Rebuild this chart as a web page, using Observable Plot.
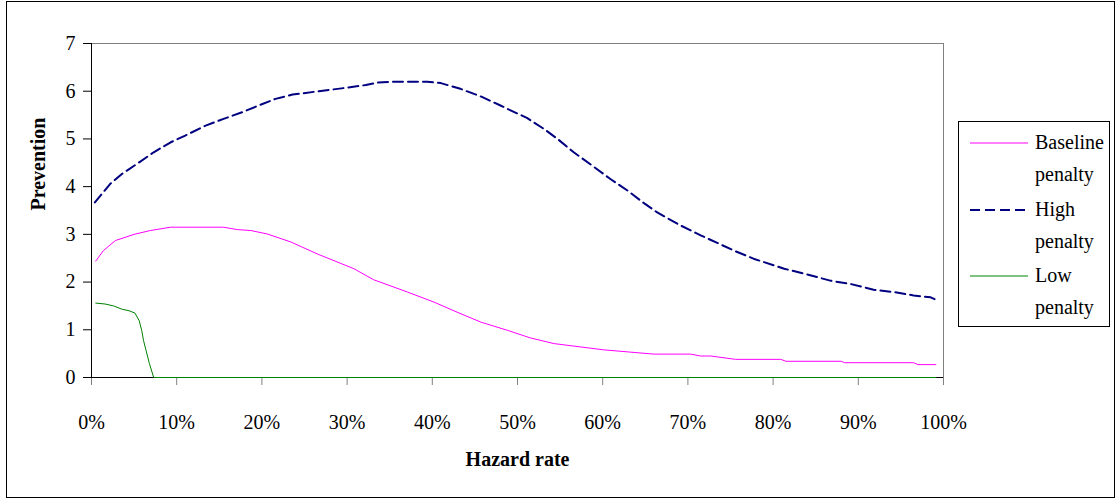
<!DOCTYPE html>
<html>
<head>
<meta charset="utf-8">
<script src="https://cdn.jsdelivr.net/npm/d3@7"></script>
<script src="https://cdn.jsdelivr.net/npm/@observablehq/plot@0.6"></script>
<style>
  body { margin: 0; background: #fff; }
  #wrap { position: relative; width: 1118px; height: 501px; overflow: hidden;
          font-family: "Liberation Serif", LiberationSerif, "Times New Roman", Times, "DejaVu Serif", serif; }
  #frame { position: absolute; left: 6px; top: 1px; width: 1109px; height: 497px;
           border: 1.5px solid #000; box-sizing: border-box; pointer-events: none; }
  #chart { position: absolute; left: 0; top: 0; }
  #chart svg, #chart svg text { font-family: "Liberation Serif", LiberationSerif, "Times New Roman", Times, "DejaVu Serif", serif !important; }
  #legend { position: absolute; left: 958px; top: 121px; width: 152px; height: 206px;
            border: 1px solid #000; box-sizing: border-box; background: #fff; }
  .lg-text { position: absolute; left: 76px; font-size: 20px; line-height: 20px; color: #000; white-space: nowrap; }
</style>
</head>
<body>
<div id="wrap">
  <div id="chart"></div>
  <div id="legend"></div>
  <div id="frame"></div>
</div>
<script>
// Series names
const seriesNames = ["Baseline penalty", "High penalty", "Low penalty"];
const seriesColors = ["#FF00FF", "#000080", "#008000"];

// Hazard rate (%) and prevention values
const baseX = [0.5, 1.4, 2.8, 5.0, 6.9, 9.3, 15.5, 17.1, 18.7, 20.6, 23.4, 26.5, 30.8, 33.1, 37.1, 40.2, 42.9, 45.7, 48.8, 51.5, 54.3, 60.1, 66.0, 70.3, 71.5, 72.7, 75.6, 80.9, 81.5, 88.0, 88.4, 96.5, 97.0, 99.1];
const baseY = [2.44, 2.66, 2.87, 3.00, 3.08, 3.15, 3.15, 3.10, 3.08, 3.01, 2.84, 2.59, 2.28, 2.05, 1.79, 1.58, 1.37, 1.16, 0.99, 0.83, 0.71, 0.58, 0.49, 0.49, 0.45, 0.45, 0.38, 0.38, 0.34, 0.34, 0.31, 0.31, 0.27, 0.27];

const highX = [0.4, 2.2, 3.6, 5.6, 7.3, 9.3, 11.0, 13.4, 15.5, 17.7, 19.6, 21.6, 23.6, 26.7, 29.8, 32.2, 33.6, 35.5, 39.4, 41.0, 43.3, 45.7, 48.0, 51.1, 53.1, 54.7, 56.6, 59.0, 60.9, 62.9, 64.8, 66.4, 69.1, 71.5, 75.4, 77.7, 81.3, 84.0, 86.7, 89.1, 91.8, 94.2, 96.5, 98.5, 99.1];
const highY = [3.67, 4.06, 4.27, 4.51, 4.72, 4.93, 5.07, 5.28, 5.42, 5.56, 5.70, 5.84, 5.93, 6.00, 6.07, 6.13, 6.18, 6.20, 6.20, 6.17, 6.05, 5.89, 5.70, 5.44, 5.21, 5.00, 4.72, 4.41, 4.16, 3.92, 3.66, 3.46, 3.19, 2.98, 2.66, 2.49, 2.28, 2.16, 2.03, 1.96, 1.84, 1.79, 1.72, 1.68, 1.63];

const lowX = [0.5, 1.6, 2.6, 3.6, 4.4, 5.1, 5.6, 5.9, 6.1, 6.4, 6.8, 7.3, 99.1];
const lowY = [1.56, 1.54, 1.50, 1.43, 1.40, 1.35, 1.19, 0.98, 0.78, 0.57, 0.29, 0.00, 0.00];

// Axis ticks
const xTicks = [0, 10, 20, 30, 40, 50, 60, 70, 80, 90, 100];
const yTicks = [0, 1, 2, 3, 4, 5, 6, 7];

const toRows = (xs, ys) => xs.map((x, i) => ({x, y: ys[i]}));
const baseRows = toRows(baseX, baseY);
const highRows = toRows(highX, highY);
const lowRows = toRows(lowX, lowY);

const serif = '"Liberation Serif", LiberationSerif, "Times New Roman", Times, "DejaVu Serif", serif';

const chart = Plot.plot({
  width: 1118,
  height: 501,
  marginLeft: 91,
  marginRight: 175,
  marginTop: 43,
  marginBottom: 124,
  style: { fontFamily: serif, fontSize: "20px", background: "transparent", color: "#000" },
  x: { domain: [0, 100] },
  y: { domain: [0, 7] },
  marks: [
    Plot.frame({ stroke: "#808080" }),
    Plot.axisX({ ticks: xTicks, tickSize: 8, tickPadding: 29, stroke: "#808080", tickFormat: d => d + "%", label: null, fontSize: 20, fontFamily: serif }),
    Plot.axisY({ ticks: yTicks, tickSize: 8, tickPadding: 8, stroke: "#000", tickFormat: d => String(d), label: null, fontSize: 20, fontFamily: serif }),
    Plot.ruleX([0], { stroke: "#000" }),
    Plot.ruleY([0], { stroke: "#000" }),
    Plot.line(baseRows, { x: "x", y: "y", stroke: seriesColors[0], strokeWidth: 1 }),
    Plot.line(highRows, { x: "x", y: "y", stroke: seriesColors[1], strokeWidth: 2, strokeDasharray: "10,5" }),
    Plot.line(lowRows, { x: "x", y: "y", stroke: seriesColors[2], strokeWidth: 1 }),
    Plot.text(["Hazard rate"], { frameAnchor: "bottom", dy: 88, fontWeight: "bold", fontSize: 20, fontFamily: serif, fill: "#000" }),
    Plot.text(["Prevention"], { frameAnchor: "left", dx: -53, rotate: -90, fontWeight: "bold", fontSize: 20, fontFamily: serif, fill: "#000" })
  ]
});
document.getElementById("chart").appendChild(chart);

// Legend
const legend = document.getElementById("legend");
const entryStep = 66.5;
seriesNames.forEach((name, i) => {
  const cy = 21 + i * entryStep;
  const svgNS = "http://www.w3.org/2000/svg";
  const s = document.createElementNS(svgNS, "svg");
  s.setAttribute("width", 60); s.setAttribute("height", 6);
  s.style.position = "absolute"; s.style.left = "10px"; s.style.top = (cy - 3) + "px";
  const l = document.createElementNS(svgNS, "line");
  l.setAttribute("x1", 1); l.setAttribute("x2", 59); l.setAttribute("y1", 3); l.setAttribute("y2", 3);
  l.setAttribute("stroke", seriesColors[i]);
  l.setAttribute("stroke-width", i === 1 ? 2 : 1);
  if (i === 1) l.setAttribute("stroke-dasharray", "10,5");
  s.appendChild(l);
  legend.appendChild(s);
  name.split(" ").forEach((w, j) => {
    const t = document.createElement("div");
    t.className = "lg-text";
    t.textContent = w;
    t.style.top = (cy - 11 + j * 32) + "px";
    legend.appendChild(t);
  });
});
</script>
</body>
</html>
